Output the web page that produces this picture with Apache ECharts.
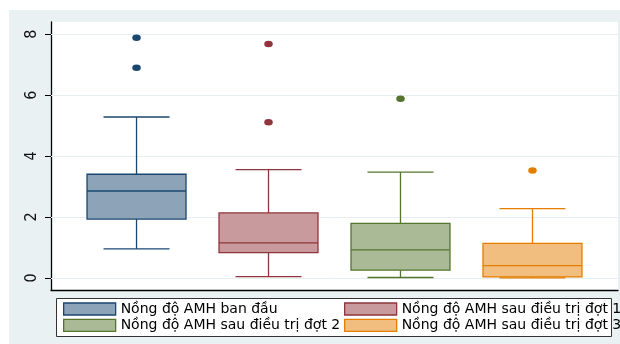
<!DOCTYPE html>
<html>
<head>
<meta charset="utf-8">
<title>Nồng độ AMH</title>
<script src="https://cdn.jsdelivr.net/npm/echarts@6/dist/echarts.min.js"></script>
<style>
  html, body { margin: 0; padding: 0; background: #fff; }
  #chart { width: 620px; height: 344px; }
</style>
</head>
<body>
<div id="chart"></div>
<script>
// Groups (one box each), in drawing order
const groups = [
  'Nồng độ AMH ban đầu',
  'Nồng độ AMH sau điều trị đợt 1',
  'Nồng độ AMH sau điều trị đợt 2',
  'Nồng độ AMH sau điều trị đợt 3'
];

// Five-number summaries per group
const lowerWhisker = [0.95, 0.04, 0.01, 0.00];
const quartile1    = [1.93, 0.83, 0.25, 0.03];
const medians      = [2.85, 1.15, 0.92, 0.40];
const quartile3    = [3.40, 2.13, 1.79, 1.13];
const upperWhisker = [5.28, 3.55, 3.47, 2.27];

// Outside values per group
const outliers = [
  [7.88, 6.90],
  [7.68, 5.11],
  [5.88],
  [3.52]
];

// Y axis tick labels
const yTicks = [0, 2, 4, 6, 8];

const lineColors = ['#1a476f', '#90353b', '#55752f', '#e37e00'];
const fillColors = ['#8ca3b8', '#c89a9d', '#aaba97', '#f1be7f'];

const chart = echarts.init(document.getElementById('chart'), null, { renderer: 'canvas' });

function boxRenderer(gi) {
  return function (params, api) {
    const x = api.value(0);
    const pLow = api.coord([x, api.value(1)]);
    const pQ1 = api.coord([x, api.value(2)]);
    const pMed = api.coord([x, api.value(3)]);
    const pQ3 = api.coord([x, api.value(4)]);
    const pHigh = api.coord([x, api.value(5)]);
    const unit = api.size([1, 0])[0];
    const halfBox = unit * 0.375;
    const halfCap = unit * 0.25;
    const cx = pLow[0];
    const stroke = { stroke: lineColors[gi], lineWidth: 1.3, fill: null };
    return {
      type: 'group',
      children: [
        { type: 'line', shape: { x1: cx, y1: pQ3[1], x2: cx, y2: pHigh[1] }, style: stroke },
        { type: 'line', shape: { x1: cx, y1: pQ1[1], x2: cx, y2: pLow[1] }, style: stroke },
        { type: 'line', shape: { x1: cx - halfCap, y1: pHigh[1], x2: cx + halfCap, y2: pHigh[1] }, style: stroke },
        { type: 'line', shape: { x1: cx - halfCap, y1: pLow[1], x2: cx + halfCap, y2: pLow[1] }, style: stroke },
        {
          type: 'rect',
          shape: { x: cx - halfBox, y: pQ3[1], width: halfBox * 2, height: pQ1[1] - pQ3[1] },
          style: { fill: fillColors[gi], stroke: lineColors[gi], lineWidth: 1.3 }
        },
        { type: 'line', shape: { x1: cx - halfBox, y1: pMed[1], x2: cx + halfBox, y2: pMed[1] }, style: stroke }
      ]
    };
  };
}

const series = [];

// Light horizontal grid lines at each labelled value, kept beneath the boxes
series.push({
  type: 'line',
  name: 'grid',
  data: [],
  z: 1,
  silent: true,
  markLine: {
    z: 1,
    silent: true,
    symbol: 'none',
    label: { show: false },
    lineStyle: { color: '#e6eef1', width: 1, type: 'solid' },
    data: yTicks.map(v => ({ yAxis: v }))
  }
});

groups.forEach((name, gi) => {
  series.push({
    type: 'custom',
    name: name,
    z: 3,
    renderItem: boxRenderer(gi),
    encode: { x: 0, y: [1, 2, 3, 4, 5] },
    data: [[gi, lowerWhisker[gi], quartile1[gi], medians[gi], quartile3[gi], upperWhisker[gi]]]
  });
  series.push({
    type: 'scatter',
    name: name,
    z: 4,
    symbol: 'circle',
    symbolSize: [8.5, 6.5],
    itemStyle: { color: lineColors[gi], opacity: 1 },
    data: outliers[gi].map(v => [gi, v])
  });
});

function legendItem(gi) {
  return {
    name: groups[gi],
    icon: 'rect',
    itemStyle: { color: fillColors[gi], borderColor: lineColors[gi], borderWidth: 1.3, opacity: 1 }
  };
}

const legendText = { color: '#000', fontSize: 14, fontFamily: 'DejaVu Sans', lineHeight: 16 };

const option = {
  backgroundColor: '#ffffff',
  animation: false,
  graphic: [
    {
      type: 'rect', z: -10, silent: true,
      shape: { x: 9, y: 10, width: 611, height: 334 },
      style: { fill: '#e9f1f3' }
    },
    {
      type: 'rect', z: 0, silent: true,
      shape: { x: 56.5, y: 298.5, width: 555, height: 38 },
      style: { fill: '#ffffff', stroke: '#333', lineWidth: 1 }
    }
  ],
  grid: {
    left: 51, top: 22, width: 567, height: 268,
    show: true, backgroundColor: '#ffffff', borderWidth: 0
  },
  xAxis: {
    type: 'value',
    min: -0.648, max: 3.648,
    axisLine: { show: true, onZero: false, lineStyle: { color: '#000', width: 1.3 } },
    axisTick: { show: false },
    axisLabel: { show: false },
    splitLine: { show: false }
  },
  yAxis: {
    type: 'value',
    min: -0.4, max: 8.4,
    axisLine: { show: true, onZero: false, lineStyle: { color: '#000', width: 1.3 } },
    axisTick: { show: true, length: 6, customValues: yTicks, lineStyle: { color: '#000', width: 1 } },
    axisLabel: {
      customValues: yTicks,
      rotate: 90,
      margin: 11,
      color: '#111',
      fontSize: 16,
      fontFamily: "'Liberation Sans Narrow', 'DejaVu Sans Condensed', sans-serif"
    },
    splitLine: { show: false }
  },
  legend: [
    {
      left: 63, top: 301, orient: 'vertical', padding: 0, itemGap: 0.3,
      itemWidth: 52, itemHeight: 12,
      textStyle: legendText,
      data: [legendItem(0), legendItem(2)]
    },
    {
      left: 344, top: 301, orient: 'vertical', padding: 0, itemGap: 0.3,
      itemWidth: 52, itemHeight: 12,
      textStyle: legendText,
      data: [legendItem(1), legendItem(3)]
    }
  ],
  series: series
};

chart.setOption(option);
</script>
</body>
</html>
